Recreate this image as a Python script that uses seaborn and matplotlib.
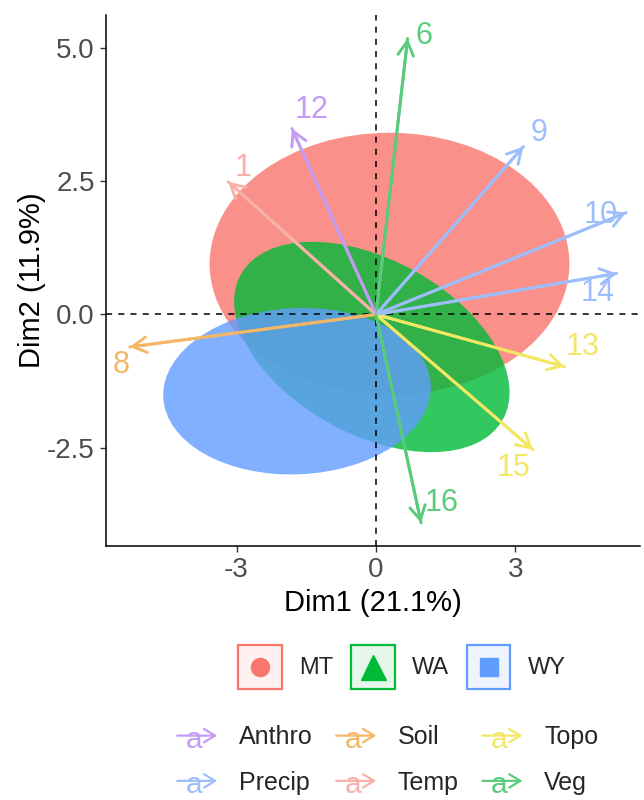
import numpy as np
import pandas as pd
import matplotlib
matplotlib.use("Agg")
import matplotlib.pyplot as plt
import seaborn as sns
from matplotlib.patches import Ellipse, Rectangle, FancyArrowPatch
from matplotlib.legend_handler import HandlerBase
from matplotlib.lines import Line2D
from matplotlib.text import Text
from matplotlib.colors import to_rgba

# Variable loadings (arrows)
var_labels = ["1", "6", "8", "9", "10", "12", "13", "14", "15", "16"]
var_groups = ["Temp", "Veg", "Soil", "Precip", "Precip", "Anthro", "Topo", "Precip", "Topo", "Veg"]
dim1 = [-3.18, 0.68, -5.30, 3.17, 5.38, -1.81, 4.06, 5.18, 3.38, 0.97]
dim2 = [2.49, 5.18, -0.61, 3.15, 1.91, 3.49, -0.98, 0.77, -2.54, -3.91]

group_order = ["Anthro", "Precip", "Soil", "Temp", "Topo", "Veg"]
group_colors = ["#C49CF6", "#9DBDFB", "#F4B667", "#F7B1A8", "#F3E765", "#5ACB7D"]

# Site concentration ellipses
sites = ["MT", "WA", "WY"]
site_colors = ["#F8766D", "#00BA38", "#619CFF"]
site_markers = ["o", "^", "s"]
site_marker_sizes = [13, 18, 13]
ell_cx = [0.29, -0.09, -1.70]
ell_cy = [0.95, -0.61, -1.44]
ell_rx = [3.87, 3.14, 2.88]
ell_ry = [2.46, 1.68, 1.56]
ell_angle = [0.0, -23.0, 2.0]

x_ticks = [-3, 0, 3]
y_ticks = [-2.5, 0.0, 2.5, 5.0]

# label placement offsets (points) relative to each arrow tip
label_dx = [11, 12, -6, 11, -18, 14, 13, -14, -14, 15]
label_dy = [10, 2, -13, 10, -2, 13, 14, -14, -13, 14]

sns.set_theme(style="white")
plt.rcParams["font.family"] = ["Liberation Sans", "DejaVu Sans"]

palette = dict(zip(group_order, group_colors))

fig = plt.figure(figsize=(6.44, 8.0), dpi=100)
ax = fig.add_axes([106 / 644, 1 - 546 / 800, (640 - 106) / 644, (546 - 15) / 800])

for name, c, cx, cy, rx, ry, ang in zip(sites, site_colors, ell_cx, ell_cy, ell_rx, ell_ry, ell_angle):
    ax.add_patch(Ellipse((cx, cy), 2 * rx, 2 * ry, angle=ang, facecolor=c,
                         edgecolor="none", alpha=0.8, zorder=1))

ax.axhline(0, color="black", lw=1.1, ls=(0, (4, 4)), zorder=2)
ax.axvline(0, color="black", lw=1.1, ls=(0, (4, 4)), zorder=2)

# arrow shafts
rows = []
for lab, g, x, y in zip(var_labels, var_groups, dim1, dim2):
    rows.append({"var": lab, "group": g, "x": 0.0, "y": 0.0})
    rows.append({"var": lab, "group": g, "x": x, "y": y})
seg = pd.DataFrame(rows)
sns.lineplot(data=seg, x="x", y="y", hue="group", units="var", estimator=None,
             palette=palette, legend=False, lw=2.1, sort=False, ax=ax, zorder=3)

# arrow heads and labels
for lab, g, x, y, dx, dy in zip(var_labels, var_groups, dim1, dim2, label_dx, label_dy):
    c = palette[g]
    ax.annotate("", xy=(x, y), xytext=(0, 0),
                arrowprops=dict(arrowstyle="->,head_length=0.5,head_width=0.28",
                                color=c, lw=2.1, shrinkA=0, shrinkB=0,
                                mutation_scale=20),
                zorder=4)
    ax.annotate(lab, xy=(x, y), xytext=(dx, dy), textcoords="offset points",
                ha="center", va="center", color=c, fontsize=22, zorder=5)

ax.set_xlim(-5.81, 5.68)
ax.set_ylim(-4.345, 5.62)
ax.set_xticks(x_ticks)
ax.set_xticklabels([str(t) for t in x_ticks])
ax.set_yticks(y_ticks)
ax.set_yticklabels([f"{t:.1f}" for t in y_ticks])
ax.tick_params(axis="both", which="both", bottom=True, left=True, direction="out",
               length=4, width=1.0, color="#333333", labelcolor="#4D4D4D",
               labelsize=20, pad=4)
sns.despine(ax=ax)
for s in ["left", "bottom"]:
    ax.spines[s].set_color("black")
    ax.spines[s].set_linewidth(1.1)
ax.set_xlabel("Dim1 (21.1%)", fontsize=21, color="black", labelpad=4)
ax.set_ylabel("Dim2 (11.9%)", fontsize=21, color="black", labelpad=1)
ax.grid(False)


class SiteKeyHandler(HandlerBase):
    def __init__(self, color, marker, ms):
        super().__init__()
        self.color, self.marker, self.ms = color, marker, ms

    def create_artists(self, legend, orig_handle, xdescent, ydescent, width, height, fontsize, trans):
        size = min(width, height)
        x0 = -xdescent + (width - size) / 2
        y0 = -ydescent + (height - size) / 2
        rect = Rectangle((x0, y0), size, size, facecolor=to_rgba(self.color, 0.1),
                         edgecolor=self.color, lw=1.6, transform=trans)
        m = Line2D([x0 + size / 2], [y0 + size / 2], marker=self.marker, color=self.color,
                   markersize=self.ms, linestyle="none", transform=trans)
        return [rect, m]


class ArrowKeyHandler(HandlerBase):
    def __init__(self, color):
        super().__init__()
        self.color = color

    def create_artists(self, legend, orig_handle, xdescent, ydescent, width, height, fontsize, trans):
        y = -ydescent + height / 2
        arr = FancyArrowPatch((-xdescent, y), (-xdescent + width, y),
                              arrowstyle="->,head_length=0.5,head_width=0.3",
                              mutation_scale=16, color=self.color, lw=1.6,
                              shrinkA=0, shrinkB=0, transform=trans)
        txt = Text(-xdescent + width * 0.42, y - 3, "a", color=self.color,
                   fontsize=fontsize * 1.2, ha="center", va="center", transform=trans)
        return [arr, txt]


site_handles = [Line2D([], []) for _ in sites]
site_map = {h: SiteKeyHandler(c, m, ms) for h, c, m, ms in
            zip(site_handles, site_colors, site_markers, site_marker_sizes)}
leg1 = fig.legend(site_handles, sites, handler_map=site_map, loc="center",
                  bbox_to_anchor=(0.624, 0.166), ncol=3, frameon=False, fontsize=17,
                  handlelength=1.85, handleheight=3.0, handletextpad=0.72,
                  columnspacing=0.76, borderpad=0)

grp_handles = [Line2D([], []) for _ in group_order]
grp_map = {h: ArrowKeyHandler(c) for h, c in zip(grp_handles, group_colors)}
leg2 = fig.legend(grp_handles, group_order, handler_map=grp_map, loc="center",
                  bbox_to_anchor=(0.602, 0.05), ncol=3, frameon=False, fontsize=18,
                  handlelength=1.6, handletextpad=0.86, columnspacing=0.95,
                  labelspacing=0.85, borderpad=0)

fig.savefig("out.png", dpi=100, facecolor="white")
